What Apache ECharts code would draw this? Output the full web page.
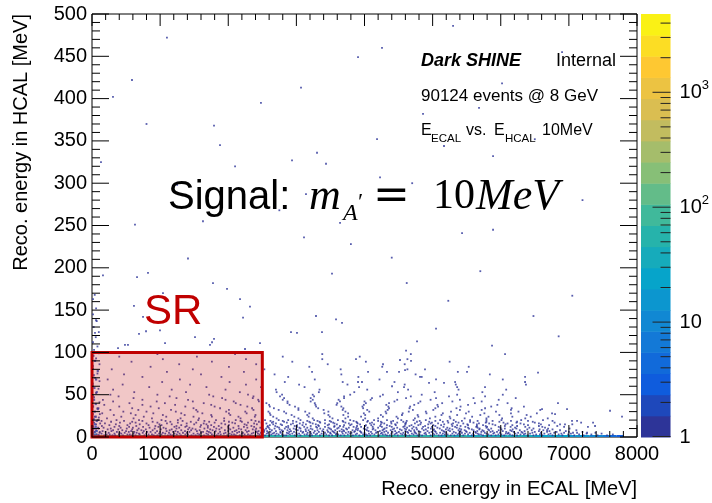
<!DOCTYPE html>
<html>
<head>
<meta charset="utf-8">
<script src="https://cdn.jsdelivr.net/npm/echarts@6/dist/echarts.min.js"></script>
<style>
  html, body { margin: 0; padding: 0; background: #fff; }
  #chart { width: 712px; height: 503px; }
</style>
</head>
<body>
<div id="chart"></div>
<script>
// ---- axis ranges ----
const xRange = [0, 8000];      // ECAL energy [MeV]
const yRange = [0, 500];       // HCAL energy [MeV]
const zRange = [1, 4800];      // entries per bin (log colour scale)
const xTickStep = 1000, xMinorStep = 200;
const yTickStep = 50, yMinorStep = 10;

// ---- signal region ----
const srX = [0, 2500];
const srY = [0, 100];

// ---- HCAL = 0 row, 100 MeV wide ECAL bins ----
const baseRowX = [50,150,250,350,450,550,650,750,850,950,1050,1150,1250,1350,1450,1550,1650,1750,1850,1950,
  2050,2150,2250,2350,2450,2550,2650,2750,2850,2950,3050,3150,3250,3350,3450,3550,3650,3750,3850,3950,
  4050,4150,4250,4350,4450,4550,4650,4750,4850,4950,5050,5150,5250,5350,5450,5550,5650,5750,5850,5950,
  6050,6150,6250,6350,6450,6550,6650,6750,6850,6950,7050,7150,7250,7350,7450,7550,7650,7750];
const baseRowCount = [420,180,95,80,78,75,72,70,74,69,71,68,70,66,69,65,67,64,66,63,
  65,62,64,61,63,60,62,58,61,57,60,56,59,55,58,54,57,53,56,52,
  55,51,54,50,53,49,52,48,50,47,49,45,47,44,46,42,44,40,41,38,
  39,35,36,32,33,29,28,25,24,21,19,16,14,11,9,7,5,3];

// ---- single-entry bins, grouped by HCAL energy: [yHCAL, [xECAL, ...]] ----
const hitRows = [
  [2, [35,95,180,300,340,455,590,640,770,905,960,1115,1180,1305,1460,1520,1645,1790,1830,1985,2110,2170,2320,2395,2540,2600,2690,2815,2850,2975,3060,3190,3230,3345,3480,3525,3650,3705,3830,3925,4040,4085,4215,4330,4370,4490,4615,4660,4780,4845,4970,5090,5130,5265,5320,5450,5575,5610,5740,5860,5925,6050,6170,6240,6395,6480,6610,6760,6905,7080,7215,7420,7560]],
  [3, [70,215,260,395,520,555,700,830,880,1020,1150,1245,1370,1410,1575,1705,1760,1890,2050,2085,2240,2290,2460,2505,2630,2740,2790,2905,3010,3120,3155,3285,3400,3440,3580,3615,3755,3870,3980,4020,4145,4270,4305,4440,4555,4590,4720,4810,4905,5025,5180,5220,5365,5405,5520,5680,5710,5820,5965,6010,6135,6290,6340,6520,6575,6700,6850,6990,7150,7330,7645]],
  [4, [10,140,330,430,610,690,795,985,1075,1210,1285,1490,1550,1680,1855,1935,2020,2200,2345,2435,2565,2655,2710,2880,2940,3040,3215,3305,3370,3505,3590,3680,3790,3890,4065,4110,4240,4395,4460,4530,4695,4760,4880,5005,5060,5150,5290,5385,5475,5595,5660,5790,5890,6075,6105,6215,6360,6430,6640,6730,6890,7030,7260,7480]],
  [5, [110,245,405,480,655,745,930,1040,1130,1335,1395,1600,1740,1800,1960,2130,2215,2370,2480,2585,2675,2770,2860,3000,3090,3165,3255,3420,3495,3560,3725,3810,3955,4000,4170,4255,4345,4475,4570,4640,4745,4895,4950,5110,5200,5340,5430,5545,5635,5765,5905,5990,6115,6255,6320,6465,6590,6785,6930,7120,7390]],
  [6, [40,200,365,540,620,810,860,1000,1190,1260,1430,1630,1715,1880,2060,2160,2275,2420,2525,2620,2765,2895,2965,3100,3205,3330,3465,3545,3670,3765,3850,3945,4095,4190,4290,4410,4505,4625,4735,4820,4985,5045,5175,5310,5395,5500,5625,5715,5850,5945,6080,6190,6305,6500,6680,6820,7000,7200]],
  [7, [155,285,500,575,760,955,1095,1225,1365,1540,1690,1815,2000,2095,2300,2445,2570,2700,2805,2920,3065,3140,3270,3380,3530,3635,3700,3860,3935,4060,4225,4320,4450,4600,4680,4795,4925,5035,5160,5255,5410,5490,5655,5750,5880,6030,6160,6350,6560,6715,6955]],
  [8, [60,310,445,665,725,890,1140,1310,1455,1580,1770,1950,2120,2255,2400,2530,2640,2785,2870,3020,3180,3310,3455,3570,3690,3825,3900,4035,4160,4265,4385,4545,4655,4730,4870,5005,5135,5230,5380,5470,5600,5730,5830,5970,6140,6280,6455,6625,6870,7110]],
  [9, [230,385,590,790,1010,1170,1410,1520,1735,1870,2030,2190,2360,2515,2610,2755,2905,2990,3135,3235,3395,3510,3665,3745,3875,4015,4120,4280,4415,4520,4610,4770,4900,5020,5195,5290,5420,5575,5685,5815,6010,6175,6390,6570,6760]],
  [10, [95,275,510,685,920,1085,1240,1475,1650,1825,2005,2155,2410,2555,2680,2830,2960,3060,3210,3350,3490,3600,3730,3905,3990,4130,4295,4435,4590,4700,4845,4975,5105,5250,5395,5535,5690,5860,6060,6230,6480,6695,7010]],
  [11, [170,420,600,845,1050,1280,1430,1700,1900,2075,2280,2470,2595,2745,2880,3045,3160,3305,3470,3620,3770,3880,4045,4200,4325,4480,4625,4760,4935,5070,5215,5355,5520,5660,5790,5995,6210,6420,6650]],
  [12, [20,330,545,750,975,1210,1370,1590,1790,2000,2230,2380,2575,2720,2850,3010,3115,3290,3420,3555,3690,3840,3950,4120,4255,4400,4570,4720,4860,4990,5160,5330,5480,5640,5800,5970,6145,6360,6610,6930,7280]],
  [13, [145,400,650,930,1240,1390,1700,1860,2150,2340,2580,2690,2880,2975,3210,3330,3560,3640,3890,4010,4230,4370,4590,4660,4890,5040,5290,5410,5650,5780,6060,6240,6560,6830]],
  [14, [255,520,830,1020,1310,1600,1750,2010,2270,2500,2610,2790,3010,3090,3320,3460,3700,3790,4020,4100,4330,4460,4690,4790,5010,5125,5360,5520,5740,5920,6170,6400,6710]],
  [15, [60,350,700,990,1170,1500,1680,1955,2240,2420,2660,2770,2920,3140,3285,3480,3595,3810,3935,4140,4240,4450,4600,4820,4935,5170,5280,5510,5650,5880,6070,6340,6590,7050]],
  [16, [190,560,800,1100,1390,1640,1900,2100,2380,2560,2700,2950,3050,3240,3420,3560,3770,3900,4080,4290,4395,4600,4740,4970,5080,5300,5450,5680,5830,6100,6290,6560]],
  [17, [30,410,640,960,1260,1530,1800,2060,2290,2490,2640,2860,3100,3205,3350,3540,3720,3890,4110,4255,4480,4610,4830,4990,5230,5380,5600,5780,6040,6230,6500,6790,7180]],
  [18, [280,590,890,1150,1450,1720,2010,2200,2450,2660,2820,3000,3190,3340,3510,3690,3880,4040,4240,4390,4570,4770,4950,5150,5340,5550,5790,5980,6240,6470]],
  [19, [140,470,740,1080,1330,1650,1940,2180,2400,2620,2800,2950,3160,3310,3490,3680,3840,4050,4200,4420,4620,4810,5040,5220,5430,5660,5880,6150,6400,6760]],
  [20, [90,360,690,1020,1260,1560,1820,2110,2340,2540,2740,2880,3060,3260,3420,3610,3790,3980,4140,4330,4540,4720,4900,5110,5310,5550,5790,6010,6300,6620]],
  [22, [220,610,880,1300,1570,1940,2180,2500,2710,3030,3240,3530,3720,4010,4200,4490,4740,4960,5260,5470,5790,6020,6360,6690]],
  [24, [40,430,760,1090,1490,1760,2150,2390,2660,2970,3180,3490,3760,3950,4270,4470,4790,5040,5250,5580,5820,6170,6440]],
  [26, [320,640,1040,1360,1750,2030,2400,2620,2930,3160,3470,3690,4010,4240,4550,4780,5130,5360,5700,5980,6380]],
  [28, [150,570,900,1310,1620,2010,2270,2610,2850,3190,3410,3760,3990,4320,4560,4910,5150,5490,5760,6150,6530]],
  [30, [460,800,1230,1550,1970,2250,2590,2820,3130,3470,3720,4070,4310,4650,4900,5270,5530,5930,6260]],
  [32, [270,680,1160,1530,2010,2370,2740,3030,3400,3680,4040,4340,4710,5010,5400,5720,6150,6580]],
  [34, [80,590,980,1490,1880,2350,2670,3030,3320,3690,3980,4360,4660,5040,5350,5770,6160]],
  [36, [400,860,1370,1800,2280,2610,2980,3290,3660,3970,4350,4670,5080,5410,5860,6340]],
  [38, [180,740,1220,1750,2180,2600,2900,3280,3590,3990,4320,4730,5070,5520,5950]],
  [40, [550,1070,1640,2110,2560,2870,3270,3600,4020,4360,4790,5140,5620,6100,6840]],
  [42, [310,950,1480,2080,2450,2870,3210,3640,4000,4440,4820,5290,5720]],
  [44, [160,740,1410,1960,2440,2800,3240,3620,4090,4480,4970,5400,5970]],
  [46, [610,1240,1910,2360,2820,3210,3700,4110,4610,5050,5600,6220]],
  [48, [390,1140,1780,2370,2760,3260,3700,4230,4680,5240,5770]],
  [50, [270,960,1720,2290,2790,3240,3790,4270,4840,5360,6030]],
  [53, [620,1380,2170,2710,3330,3850,4490,5030,5730]],
  [56, [310,1170,1960,2700,3340,4040,4640,5380,6080]],
  [59, [840,1680,2480,3120,3920,4580,5360]],
  [62, [450,1440,2260,3040,3750,4590,5340,6370]],
  [65, [1030,2020,2830,3680,4440,5330]],
  [68, [230,1290,2410,3270,4220,5050,6030]],
  [71, [740,1900,2880,3910,4840]],
  [74, [470,1600,2680,3660,4750,5840]],
  [77, [1100,2230,3230,4330,5370]],
  [80, [290,1480,2530,3650,4630]],
  [83, [860,2010,3190,4260,5530]],
  [86, [1280,2410,3460,4590]],
  [89, [580,1760,2940,4020,5250]],
  [92, [1040,2260,3380,4630]],
  [95, [400,1540,2800,3930]],
  [98, [960,2100,3380,4680]]
];

// ---- isolated single-entry bins [xECAL, yHCAL] ----
const sparseHits = [
  [587,422],[308,402],[1791,368],[1879,345],[3068,413],[2936,327],[3303,336],[3435,323],[3905,449],[631,251],
  [1629,255],[3112,236],[3641,253],[132,325],[3141,287],[4257,460],[6019,418],[5681,389],[4859,382],[4184,352],
  [5167,344],[5887,332],[4228,307],[5432,241],[5887,245],[1409,211],[822,194],[661,189],[161,191],[1776,182],
  [1042,170],[1982,175],[2173,163],[2319,154],[2217,141],[1512,118],[1791,116],[690,122],[998,126],[1072,111],
  [528,109],[382,105],[2466,111],[2246,104],[2921,124],[3009,123],[3288,143],[3376,124],[3582,139],[3670,135],
  [3523,193],[15,163],[59,138],[44,123],[616,155],[749,142],[793,125],[1762,112],[484,109],[1732,109],
  [4771,113],[5872,108],[6063,98],[3875,92],[4272,86],[4610,102],[4683,90],[4521,91],[4052,77],[4507,77],
  [4595,79],[4888,80],[5505,77],[6547,76],[6357,71],[4815,71],[4947,64],[5167,64],[5769,59],[6357,65],
  [4404,60],[3905,65],[3963,65],[4620,182],[5230,161],[6480,143],[5050,128],[6850,119],[4400,212],[5700,196],
  [7050,167],[3800,228],[2750,268],[1250,298],[2480,395],[1100,472],[5300,486],[6500,352],[7200,280],[6900,455],
  [4700,300],[2100,320],[800,370],
  [6606,33],[6753,28],[6797,27],[6973,33],[7046,19],[7120,19],[7355,17],[7384,13],[7604,31],[7780,24],
  [6870,15],[6943,15],[6680,8],[7061,5],[7267,5],
  [100,2],[115,6],[90,11],[120,16],[100,23],[115,27],[95,34],[110,41],[30,47],[60,52],
  [95,57],[15,60],[110,66],[45,70],[80,75],[15,81],[110,86],[60,93],[100,99],[30,103],
  [80,107],[15,112],[55,118],[100,124],[25,130],[70,137],[15,145],[60,152],[40,168]
];

// ---- multi-entry bins close to ECAL = 0 [xECAL, yHCAL, entries] ----
const multiHits = [
  [10,1,30],[25,1,18],[40,1,12],[10,3,14],[25,3,9],[55,3,6],[10,5,8],[40,6,5],[10,8,6],[70,7,3],
  [25,10,4],[55,12,3],[10,13,4],[40,15,3],[10,18,3],[70,19,2],[25,21,3],[55,24,2],[10,27,2],[40,30,2],
  [85,33,2],[15,36,2],[55,39,2],[30,44,2],[10,49,2],[70,53,2],[35,58,2],[10,63,2],[60,68,2],[25,73,2],
  [85,78,2],[10,84,2],[45,90,2],[20,96,2]
];

// ---- colour axis ticks ----
const zMajorTicks = [1, 10, 100, 1000];
const zMinorTicks = [2,3,4,5,6,7,8,9,20,30,40,50,60,70,80,90,200,300,400,500,600,700,800,900,2000,3000,4000];

// ---- palette (kBird) ----
const birdStops = [0, 0.125, 0.25, 0.375, 0.5, 0.625, 0.75, 0.875, 1];
const birdR = [0.2082, 0.0592, 0.0780, 0.0232, 0.1802, 0.5301, 0.8186, 0.9956, 0.9764];
const birdG = [0.1664, 0.3599, 0.5041, 0.6419, 0.7178, 0.7492, 0.7328, 0.7862, 0.9832];
const birdB = [0.5293, 0.8684, 0.8385, 0.7914, 0.6425, 0.4662, 0.3499, 0.1968, 0.0539];
const nContours = 20;

function bird(t) {
  let k = 0;
  while (k < birdStops.length - 2 && t > birdStops[k + 1]) k++;
  const f = (t - birdStops[k]) / (birdStops[k + 1] - birdStops[k]);
  const c = a => Math.round(255 * (a[k] + (a[k + 1] - a[k]) * f));
  return 'rgb(' + c(birdR) + ',' + c(birdG) + ',' + c(birdB) + ')';
}

const logMax = Math.log10(zRange[1]);
const bandEdges = [];
for (let i = 0; i <= nContours; i++) bandEdges.push(Math.pow(10, i * logMax / nContours));
const bandColors = [];
for (let i = 0; i < nContours; i++) bandColors.push(bird((i + 0.5) / nContours));

const pieces = bandColors.map((col, i) => ({ gte: bandEdges[i], lt: bandEdges[i + 1], color: col }));
pieces[nContours - 1].lt = zRange[1] * 100;

// ---- assemble series data ----
const hitData = [];
hitRows.forEach(([y, xs]) => xs.forEach(x => hitData.push([x, y, 1])));
sparseHits.forEach(([x, y]) => hitData.push([x, y, 1]));
multiHits.forEach(([x, y, c]) => hitData.push([x, y, c]));

const baseRowData = baseRowX.map((x, i) => [x, 0, baseRowCount[i]]);
const baseHalfWidth = 50, baseHeight = 2.4;

// tick marks as small bars anchored on the frame (ROOT style, all four sides, pointing inward)
const frameTickData = [];
for (let v = xRange[0]; v <= xRange[1]; v += xMinorStep) {
  const len = v % xTickStep === 0 ? 12 : 6;
  frameTickData.push({ value: [v, yRange[0]], symbolSize: [1, len], symbolOffset: [0, -len / 2] });
  frameTickData.push({ value: [v, yRange[1]], symbolSize: [1, len], symbolOffset: [0, len / 2] });
}
for (let v = yRange[0]; v <= yRange[1]; v += yMinorStep) {
  const len = v % yTickStep === 0 ? 17 : 8;
  frameTickData.push({ value: [xRange[0], v], symbolSize: [len, 1], symbolOffset: [len / 2, 0] });
  frameTickData.push({ value: [xRange[1], v], symbolSize: [len, 1], symbolOffset: [-len / 2, 0] });
}
const barTickData = zMajorTicks.map(v => ({ value: [1, v], symbolSize: [18, 1], symbolOffset: [-9, v === 1 ? -0.5 : 0] }))
  .concat(zMinorTicks.map(v => ({ value: [1, v], symbolSize: [10, 1], symbolOffset: [-5, 0] })));

const FONT = '"Liberation Sans", Arial, Helvetica, sans-serif';
const SERIF = '"Liberation Serif", "Times New Roman", serif';

const chart = echarts.init(document.getElementById('chart'), null, { renderer: 'canvas' });

function txt(x, y, text, font, extra) {
  return Object.assign({ type: 'text', x: x, y: y, z: 100,
    style: { text: text, font: font, fill: '#000', align: 'left', verticalAlign: 'middle' } }, extra || {});
}

const textItems = [
  txt(421, 61, 'Dark SHINE', 'italic bold 18px ' + FONT),
  txt(556, 61, 'Internal', '18px ' + FONT),
  txt(421, 96, '90124 events @ 8 GeV', '17px ' + FONT),
  txt(421, 131, 'E', '16px ' + FONT),
  txt(431, 139, 'ECAL', '11.5px ' + FONT),
  txt(466, 131, 'vs.', '16px ' + FONT),
  txt(494, 131, 'E', '16px ' + FONT),
  txt(505, 139, 'HCAL', '11.5px ' + FONT),
  txt(542, 131, '10MeV', '16px ' + FONT),
  txt(168, 198, 'Signal:', '40px ' + FONT),
  txt(309, 197, 'm', 'italic 44px ' + SERIF),
  txt(343, 214, 'A', 'italic 24px ' + SERIF),
  txt(358, 203, '′', '24px ' + SERIF),
  txt(373, 198, '=', '44px "DejaVu Serif", serif'),
  txt(433, 197, '10', '42px ' + SERIF),
  txt(476, 197, 'MeV', 'italic 44px ' + SERIF),
  txt(144, 312, 'SR', '42px ' + FONT),
  txt(637, 489, 'Reco. energy in ECAL [MeV]', '20px ' + FONT),
  txt(21, 14, 'Reco. energy in HCAL [MeV]', '20px ' + FONT, { rotation: Math.PI / 2 })
];
textItems[16].style.fill = '#c00000';
textItems[17].style.align = 'right';
textItems[18].style.align = 'right';

chart.setOption({
  animation: false,
  backgroundColor: '#fff',
  grid: [
    { left: 92, top: 14, width: 545, height: 423, show: true, borderColor: '#000', borderWidth: 1 },
    { left: 641, top: 14, width: 34, height: 423, show: false }
  ],
  xAxis: [
    { gridIndex: 0, type: 'value', min: xRange[0], max: xRange[1], interval: xTickStep,
      axisLine: { show: false, onZero: false }, axisTick: { show: false }, splitLine: { show: false },
      axisLabel: { show: true, fontSize: 20, color: '#000', fontFamily: FONT, margin: 7, formatter: v => String(v) } },
    { gridIndex: 1, type: 'value', min: 0, max: 1, show: false }
  ],
  yAxis: [
    { gridIndex: 0, type: 'value', min: yRange[0], max: yRange[1], interval: yTickStep,
      axisLine: { show: false, onZero: false }, axisTick: { show: false }, splitLine: { show: false },
      axisLabel: { show: true, fontSize: 20, color: '#000', fontFamily: FONT, margin: 5, formatter: v => String(v) } },
    { gridIndex: 1, type: 'log', min: zRange[0], max: zRange[1], position: 'right',
      axisLine: { show: false, onZero: false }, splitLine: { show: false }, axisTick: { show: false },
      axisLabel: {
        show: true, margin: 9, color: '#000', fontSize: 20, fontFamily: FONT,
        formatter: function (v) {
          const e = Math.round(Math.log10(v));
          if (Math.abs(Math.log10(v) - e) > 1e-6) return '';
          if (e === 0) return '1';
          if (e === 1) return '10';
          return '10{s|' + e + '}';
        },
        rich: { s: { fontSize: 13, lineHeight: 13, fontFamily: FONT, color: '#000', padding: [0, 0, 14, 0] } }
      } }
  ],
  visualMap: { type: 'piecewise', show: false, dimension: 2, seriesIndex: [0, 1], pieces: pieces },
  series: [
    {
      type: 'scatter', xAxisIndex: 0, yAxisIndex: 0, z: 2,
      symbol: 'rect',
      symbolSize: function (d) { return d[2] > 1 ? 2.2 : 1.8; },
      data: hitData,
      emphasis: { disabled: true }
    },
    {
      type: 'custom', xAxisIndex: 0, yAxisIndex: 0, z: 2,
      data: baseRowData,
      renderItem: function (params, api) {
        const x = api.value(0);
        const p0 = api.coord([x - baseHalfWidth, 0]);
        const p1 = api.coord([x + baseHalfWidth, baseHeight]);
        return { type: 'rect',
          shape: { x: p0[0], y: p1[1], width: p1[0] - p0[0], height: p0[1] - p1[1] },
          style: { fill: api.visual('color') } };
      }
    },
    {
      // signal region box
      type: 'custom', xAxisIndex: 0, yAxisIndex: 0, z: 3,
      data: [[srX[0], srY[0], srX[1], srY[1]]],
      renderItem: function (params, api) {
        const p0 = api.coord([api.value(0), api.value(1)]);
        const p1 = api.coord([api.value(2), api.value(3)]);
        return { type: 'rect',
          shape: { x: p0[0], y: p1[1], width: p1[0] - p0[0], height: p0[1] - p1[1] },
          style: { fill: 'rgba(192,0,0,0.22)', stroke: '#c00000', lineWidth: 3 } };
      }
    },
    {
      // colour scale bands
      type: 'custom', xAxisIndex: 1, yAxisIndex: 1, z: 2,
      data: bandColors.map((c, i) => [0, bandEdges[i], bandEdges[i + 1], i]),
      renderItem: function (params, api) {
        const p0 = api.coord([0, api.value(1)]);
        const p1 = api.coord([1, api.value(2)]);
        const x0 = Math.min(p0[0], p1[0]), x1 = Math.max(p0[0], p1[0]);
        return { type: 'rect',
          shape: { x: x0, y: p1[1], width: x1 - x0, height: p0[1] - p1[1] + 0.5 },
          style: { fill: bandColors[api.value(3)] } };
      }
    },
    {
      // frame ticks
      type: 'scatter', xAxisIndex: 0, yAxisIndex: 0, z: 6, clip: false, silent: true,
      symbol: 'rect', data: frameTickData,
      itemStyle: { color: '#000', opacity: 1 },
      emphasis: { disabled: true }
    },
    {
      // colour scale ticks
      type: 'scatter', xAxisIndex: 1, yAxisIndex: 1, z: 6, clip: false, silent: true,
      symbol: 'rect', data: barTickData,
      itemStyle: { color: '#222', opacity: 1 },
      emphasis: { disabled: true }
    }
  ],
  graphic: textItems
});
</script>
</body>
</html>
